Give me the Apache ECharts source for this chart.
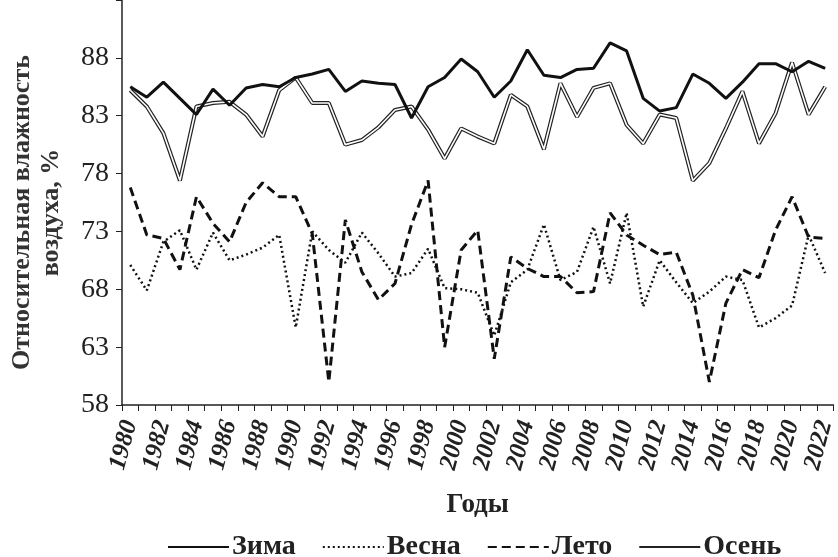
<!DOCTYPE html>
<html>
<head>
<meta charset="utf-8">
<script src="https://cdn.jsdelivr.net/npm/echarts@6/dist/echarts.min.js"></script>
<style>
  html, body { margin: 0; padding: 0; background: #fff; }
  #chart { width: 838px; height: 557px; }
</style>
</head>
<body>
<div id="chart"></div>
<script>
// years 1980..2022
const years = []
for (let y = 1980; y <= 2022; y++) years.push(String(y))

const winter = [85.5, 84.6, 85.9, 84.5, 83.1, 85.3, 83.9, 85.4, 85.7, 85.5,
  86.3, 86.6, 87.0, 85.1, 86.0, 85.8, 85.7, 82.8, 85.5, 86.3,
  87.9, 86.8, 84.6, 86.0, 88.7, 86.5, 86.3, 87.0, 87.1, 89.3,
  88.6, 84.5, 83.4, 83.7, 86.6, 85.8, 84.5, 85.9, 87.5, 87.5,
  86.8, 87.7, 87.1]

const spring = [70.1, 67.9, 72.1, 73.1, 69.7, 72.9, 70.5, 71.0, 71.6, 72.7,
  64.7, 73.0, 71.4, 70.3, 72.9, 71.1, 69.1, 69.4, 71.5, 68.1,
  68.0, 67.7, 64.0, 68.6, 69.7, 73.6, 68.8, 69.5, 73.4, 68.5,
  74.6, 66.5, 70.5, 68.6, 66.8, 67.8, 69.1, 68.8, 64.7, 65.5,
  66.6, 72.7, 69.4]

const summer = [76.8, 72.7, 72.4, 69.7, 76.0, 73.7, 72.1, 75.5, 77.2, 76.0,
  76.0, 72.8, 60.0, 74.0, 69.5, 67.1, 68.5, 73.6, 77.4, 63.0,
  71.4, 73.1, 62.0, 70.8, 69.8, 69.1, 69.1, 67.7, 67.8, 74.6,
  72.7, 71.8, 71.0, 71.2, 67.5, 60.0, 66.8, 69.7, 69.0, 73.1,
  76.0, 72.5, 72.4]

const autumn = [85.2, 83.8, 81.5, 77.4, 83.8, 84.1, 84.2, 83.1, 81.2, 85.2,
  86.3, 84.1, 84.1, 80.5, 80.9, 82.0, 83.5, 83.8, 81.8, 79.3,
  81.9, 81.2, 80.6, 84.8, 83.8, 80.1, 85.8, 82.9, 85.4, 85.8,
  82.2, 80.6, 83.1, 82.8, 77.4, 78.9, 81.9, 85.1, 80.6, 83.2,
  87.6, 83.1, 85.5]

const yTicks = [58, 63, 68, 73, 78, 83, 88]

const font = 'Liberation Serif'
const chart = echarts.init(document.getElementById('chart'))

chart.setOption({
  backgroundColor: '#fff',
  animation: false,
  textStyle: { fontFamily: font, color: '#222' },
  grid: { left: 122, right: 3, top: 0, bottom: 152 },
  legend: {
    data: ['Зима', 'Весна', 'Лето', 'Осень'],
    left: 162,
    top: 528,
    itemWidth: 61,
    itemHeight: 12,
    itemGap: 26,
    itemStyle: { opacity: 0 },
    textStyle: { fontFamily: font, fontSize: 28, fontWeight: 'bold', color: '#222', padding: [0, 0, 0, -2] }
  },
  xAxis: {
    type: 'category',
    data: years,
    boundaryGap: true,
    name: 'Годы',
    nameLocation: 'middle',
    nameGap: 87,
    nameTextStyle: { fontFamily: font, fontSize: 27, fontWeight: 'bold', color: '#222' },
    axisLine: { lineStyle: { color: '#222', width: 1.5 } },
    axisTick: { show: true, interval: 0, length: 6, lineStyle: { color: '#222' } },
    axisLabel: {
      interval: 1,
      rotate: 75,
      margin: 16,
      fontFamily: font,
      fontSize: 25,
      fontWeight: 'bold',
      fontStyle: 'italic',
      color: '#222'
    },
    splitLine: { show: false }
  },
  yAxis: {
    type: 'value',
    min: 58,
    max: 93,
    interval: 5,
    name: 'Относительная влажность\nвоздуха, %',
    nameLocation: 'middle',
    nameGap: 56,
    nameRotate: 90,
    nameTextStyle: {
      fontFamily: font, fontSize: 26, fontWeight: 'bold', color: '#333',
      lineHeight: 29, padding: [0, 20, 0, 0]
    },
    axisLine: { show: true, lineStyle: { color: '#222', width: 1.5 } },
    axisTick: { show: true, length: 6, lineStyle: { color: '#222' } },
    axisLabel: {
      margin: 13,
      fontFamily: font,
      fontSize: 28,
      color: '#222',
      formatter: v => (yTicks.indexOf(v) >= 0 ? String(v) : '')
    },
    splitLine: { show: false }
  },
  series: [
    {
      name: 'Зима', type: 'line', data: winter, symbol: 'none',
      lineStyle: { color: '#111', width: 3 }, itemStyle: { color: '#111' }, z: 5
    },
    {
      name: 'Весна', type: 'line', data: spring, symbol: 'none',
      lineStyle: { color: '#111', width: 2.5, type: [2, 3] }, itemStyle: { color: '#111' }
    },
    {
      name: 'Лето', type: 'line', data: summer, symbol: 'none',
      lineStyle: { color: '#111', width: 3, type: [9, 5] }, itemStyle: { color: '#111' }
    },
    {
      name: 'Осень', type: 'line', data: autumn, symbol: 'none',
      lineStyle: { color: '#222', width: 4 }, itemStyle: { color: '#222' }
    },
    {
      // inner white stroke makes the autumn line look hollow
      name: 'autumnInner', type: 'line', data: autumn, symbol: 'none',
      lineStyle: { color: '#fff', width: 1.6 }, silent: true
    }
  ]
})
</script>
</body>
</html>
